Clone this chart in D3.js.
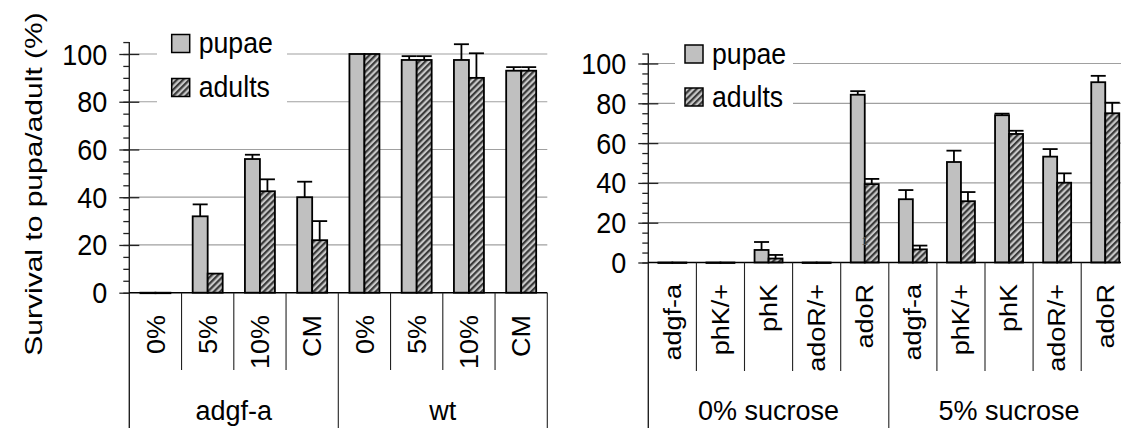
<!DOCTYPE html>
<html>
<head>
<meta charset="utf-8">
<script src="https://cdn.jsdelivr.net/npm/d3@7"></script>
<style>
  body { margin: 0; background: #fff; }
  text { font-family: "Liberation Sans", Arial, sans-serif; fill: #000; }
</style>
</head>
<body>
<div id="chart"></div>
<script>
// Overall SVG size
var svgWidth = 1121;
var svgHeight = 428;

// Series names and tick values
var seriesNames = ["pupae", "adults"];
var majorTicks = [0, 20, 40, 60, 80, 100];
var minorTicks = d3.range(0, 106, 5);

// Left panel data
var leftCats = ["0%", "5%", "10%", "CM", "0%", "5%", "10%", "CM"];
var leftGroups = ["adgf-a", "wt"];
var leftPupae = [0, 32, 56, 40, 100, 97.5, 97.5, 93];
var leftPupaeErr = [0, 5, 1.8, 6.5, 0, 1.6, 6.6, 1.5];
var leftAdults = [0, 8, 42.5, 22, 100, 97.5, 90, 93];
var leftAdultsErr = [0, 0, 5, 8, 0, 1.6, 10.3, 1.5];

// Right panel data
var rightCats = ["adgf-a", "phK/+", "phK", "adoR/+", "adoR", "adgf-a", "phK/+", "phK", "adoR/+", "adoR"];
var rightGroups = ["0% sucrose", "5% sucrose"];
var rightPupae = [0, 0, 6.3, 0, 84.3, 31.8, 50.5, 74, 53.2, 90.6];
var rightPupaeErr = [0, 0, 4, 0, 1.8, 4.6, 5.7, 0.8, 3.8, 3.2];
var rightAdults = [0, 0, 2, 0, 39.4, 6.6, 30.8, 64.6, 40.1, 75];
var rightAdultsErr = [0, 0, 1.8, 0, 2.6, 1.9, 4.6, 1.6, 4.7, 5.3];

var svg = d3.select("#chart")
  .append("svg")
  .attr("width", svgWidth)
  .attr("height", svgHeight);

// hatch pattern for adults
var defs = svg.append("defs");
var pat = defs.append("pattern")
  .attr("id", "hatch")
  .attr("patternUnits", "userSpaceOnUse")
  .attr("width", 4.4)
  .attr("height", 4.4)
  .attr("patternTransform", "rotate(45)");
pat.append("rect").attr("width", 4.4).attr("height", 4.4).attr("fill", "#c8c8c8");
pat.append("rect").attr("width", 2.2).attr("height", 4.4).attr("fill", "#3a3a3a");

var fills = { pupae: "#c0c0c0", adults: "url(#hatch)" };

function drawPanel(p) {
  var g = svg.append("g");
  var n = p.cats.length;

  var x = d3.scaleBand()
    .domain(d3.range(n))
    .range([p.left, p.left + n * p.step]);

  var yTop = p.y0 - 105 * (p.y0 - p.y100) / 100;
  var y = d3.scaleLinear()
    .domain([0, 105])
    .range([p.y0, yTop]);

  var off = (x.bandwidth() - 2 * p.barW) / 2;
  var sub = d3.scaleBand()
    .domain(seriesNames)
    .range([off, off + 2 * p.barW]);

  // gridlines
  g.selectAll(".grid")
    .data(majorTicks.filter(d => d > 0))
    .enter()
    .append("line")
    .attr("x1", p.left)
    .attr("x2", p.left + n * p.step)
    .attr("y1", d => y(d))
    .attr("y2", d => y(d))
    .attr("stroke", "#a0a0a0")
    .attr("stroke-width", 1.2);

  // legend (white box hides the gridlines)
  var lg = g.append("g");
  lg.append("rect")
    .attr("x", p.legend.boxX)
    .attr("y", p.legend.sqY - 8)
    .attr("width", p.legend.boxW)
    .attr("height", 86)
    .attr("fill", "#fff");
  seriesNames.forEach(function(s, i) {
    var sy = p.legend.sqY + i * p.legend.gap;
    lg.append("rect")
      .attr("x", p.legend.sqX)
      .attr("y", sy)
      .attr("width", 18)
      .attr("height", 18)
      .attr("fill", fills[s])
      .attr("stroke", "#000")
      .attr("stroke-width", 1.5);
    lg.append("text")
      .attr("transform", `translate(${p.legend.sqX + 27}, ${sy + 18.5}) scale(0.92,1)`)
      .style("font-size", "29px")
      .text(s);
  });

  // bars
  var vals = { pupae: p.pupae, adults: p.adults };
  var errs = { pupae: p.pupaeErr, adults: p.adultsErr };
  seriesNames.forEach(function(s) {
    g.selectAll(".bar-" + s)
      .data(vals[s])
      .enter()
      .append("rect")
      .attr("x", (d, i) => x(i) + sub(s))
      .attr("y", d => y(d))
      .attr("width", sub.bandwidth())
      .attr("height", d => Math.max(p.y0 - y(d), 0.5))
      .attr("fill", fills[s])
      .attr("stroke", "#000")
      .attr("stroke-width", 1.8);
  });

  // error bars (upper only)
  seriesNames.forEach(function(s) {
    var eb = vals[s].map((d, i) => ({ i: i, v: d, e: errs[s][i] })).filter(d => d.e > 0);
    var cx = d => x(d.i) + sub(s) + sub.bandwidth() / 2;
    g.selectAll(".err-" + s)
      .data(eb)
      .enter()
      .append("line")
      .attr("x1", cx).attr("x2", cx)
      .attr("y1", d => y(d.v)).attr("y2", d => y(d.v + d.e))
      .attr("stroke", "#000").attr("stroke-width", 1.8);
    g.selectAll(".cap-" + s)
      .data(eb)
      .enter()
      .append("line")
      .attr("x1", d => cx(d) - 7.5).attr("x2", d => cx(d) + 7.5)
      .attr("y1", d => y(d.v + d.e)).attr("y2", d => y(d.v + d.e))
      .attr("stroke", "#000").attr("stroke-width", 1.8);
  });

  // y axis: minor and major ticks
  var ax = g.append("g").attr("transform", `translate(${p.left},0)`);
  ax.call(d3.axisLeft(y).tickValues(minorTicks).tickSize(6).tickFormat(""));
  ax.append("g").call(d3.axisLeft(y).tickValues(majorTicks).tickSize(10).tickFormat(""));
  ax.append("g").call(d3.axisRight(y).tickValues(majorTicks.filter(d => d > 0)).tickSize(10).tickFormat(""));
  ax.selectAll(".domain").remove();
  ax.selectAll("line").attr("stroke", "#222").attr("stroke-width", 1.3);

  // axis lines
  g.append("line")
    .attr("x1", p.left).attr("x2", p.left)
    .attr("y1", yTop).attr("y2", svgHeight)
    .attr("stroke", "#222").attr("stroke-width", 1.4);
  g.append("line")
    .attr("x1", p.left).attr("x2", p.left + n * p.step)
    .attr("y1", p.y0).attr("y2", p.y0)
    .attr("stroke", "#000").attr("stroke-width", 1.6);

  // y tick labels
  g.selectAll(".ylab")
    .data(majorTicks)
    .enter()
    .append("text")
    .attr("transform", d => `translate(${p.left - 22}, ${y(d)}) scale(0.9,1)`)
    .attr("dy", "0.35em")
    .attr("text-anchor", "end")
    .style("font-size", "30px")
    .text(d => d);

  // category separators
  var perGroup = n / p.groups.length;
  g.selectAll(".sep")
    .data(d3.range(1, n + 1))
    .enter()
    .append("line")
    .attr("x1", d => p.left + d * p.step)
    .attr("x2", d => p.left + d * p.step)
    .attr("y1", p.y0)
    .attr("y2", d => d % perGroup === 0 ? svgHeight : p.sepBottom)
    .attr("stroke", "#222")
    .attr("stroke-width", 1.1);

  // rotated category labels
  g.selectAll(".clab")
    .data(p.cats)
    .enter()
    .append("text")
    .attr("transform", (d, i) => `translate(${x(i) + x.bandwidth() / 2}, ${p.labelEnd}) scale(${p.rotScale},1) rotate(-90)`)
    .attr("dy", "0.35em")
    .attr("text-anchor", "end")
    .style("font-size", "27px")
    .text(d => d);

  // group labels
  g.selectAll(".glab")
    .data(p.groups)
    .enter()
    .append("text")
    .attr("x", (d, i) => p.left + (i + 0.5) * perGroup * p.step)
    .attr("y", 420)
    .attr("text-anchor", "middle")
    .style("font-size", "27px")
    .text(d => d);

  return { x: x, y: y, sub: sub };
}

drawPanel({
  cats: leftCats, groups: leftGroups,
  pupae: leftPupae, pupaeErr: leftPupaeErr,
  adults: leftAdults, adultsErr: leftAdultsErr,
  left: 129.3, step: 52.25, y0: 292.7, y100: 54, barW: 15,
  sepBottom: 370, labelEnd: 315, rotScale: 0.98,
  legend: { boxX: 157, boxW: 130, sqX: 171.7, sqY: 34.5, gap: 44 }
});

var right = drawPanel({
  cats: rightCats, groups: rightGroups,
  pupae: rightPupae, pupaeErr: rightPupaeErr,
  adults: rightAdults, adultsErr: rightAdultsErr,
  left: 648.3, step: 48.1, y0: 262.5, y100: 63.5, barW: 14,
  sepBottom: 371, labelEnd: 284, rotScale: 0.88,
  legend: { boxX: 675, boxW: 118, sqX: 685, sqY: 45, gap: 43 }
});

// stray "1" mark on the 0% adoR bar
svg.append("text")
  .attr("x", right.x(4) + right.sub("pupae") + 11)
  .attr("y", right.y(9))
  .style("font-size", "11px")
  .style("fill", "#555")
  .text("1");

// y axis title
svg.append("text")
  .attr("transform", "translate(34, 184) scale(0.8,1) rotate(-90)")
  .attr("dy", "0.35em")
  .attr("text-anchor", "middle")
  .style("font-size", "30px")
  .text("Survival to pupa/adult (%)");
</script>
</body>
</html>
